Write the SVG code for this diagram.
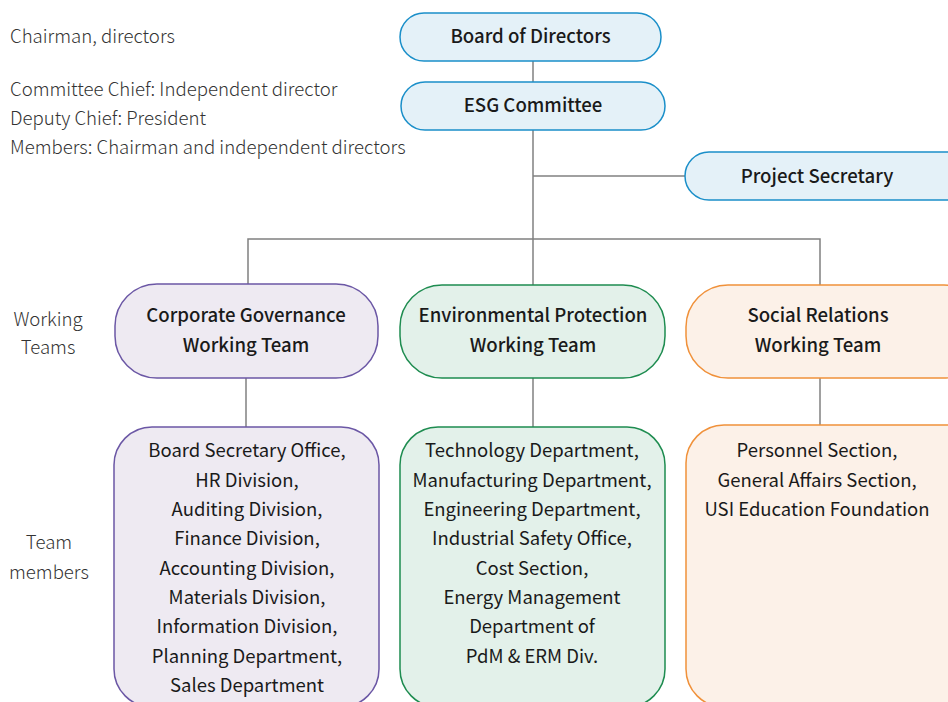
<svg xmlns="http://www.w3.org/2000/svg" width="948" height="702" viewBox="0 0 948 702">
<style>
text{font-family:"Noto Sans CJK TC","Noto Sans",sans-serif;text-anchor:middle;}
.t{font-size:18.6px;font-weight:500;fill:#1a1a1a;}
.m{font-size:18.5px;font-weight:400;fill:#1a1a1a;}
.l{font-size:18.6px;font-weight:300;fill:#333;}
.s{font-size:18.6px;font-weight:300;fill:#333;text-anchor:start;}
.blue{fill:#E4F1F8;stroke:#1A8FC9;stroke-width:1.5;}
.pur{fill:#EEEAF2;stroke:#6B57A5;stroke-width:1.5;}
.grn{fill:#E3F1EA;stroke:#1E8C50;stroke-width:1.5;}
.org{fill:#FCF1E8;stroke:#F0913A;stroke-width:1.5;}
.c{stroke:#808080;stroke-width:1.5;fill:none;}
</style>
<rect width="948" height="702" fill="#fff"/>
<g id="notes">
<text class="s" x="10" y="43">Chairman, directors</text>
<text class="s" x="10" y="96">Committee Chief: Independent director</text>
<text class="s" x="10" y="125">Deputy Chief: President</text>
<text class="s" x="10" y="154">Members: Chairman and independent directors</text>
<text class="l" x="48" y="326">Working</text>
<text class="l" x="48" y="354">Teams</text>
<text class="l" x="49" y="549">Team</text>
<text class="l" x="49" y="579">members</text>
</g>
<g id="connectors">
<line class="c" x1="533" y1="61" x2="533" y2="82"/>
<line class="c" x1="533" y1="130" x2="533" y2="285"/>
<line class="c" x1="533" y1="176" x2="685" y2="176"/>
<polyline class="c" points="248,284 248,239 820,239 820,285"/>
<line class="c" x1="246" y1="378" x2="246" y2="427"/>
<line class="c" x1="533" y1="378" x2="533" y2="427"/>
<line class="c" x1="820" y1="378" x2="820" y2="426"/>
</g>
<g id="board">
<rect class="blue" x="400" y="13" width="261" height="48" rx="24"/>
<text class="t" x="530.5" y="43">Board of Directors</text>
</g>
<g id="esg">
<rect class="blue" x="401" y="82" width="264" height="48" rx="24"/>
<text class="t" x="533" y="112">ESG Committee</text>
</g>
<g id="secretary">
<rect class="blue" x="685" y="152" width="290" height="48" rx="24"/>
<text class="t" x="817" y="183">Project Secretary</text>
</g>
<g id="cg-team">
<rect class="pur" x="115" y="284" width="263" height="94" rx="42"/>
<text class="t" x="246" y="322">Corporate Governance</text>
<text class="t" x="246" y="352">Working Team</text>
</g>
<g id="ep-team">
<rect class="grn" x="400" y="285" width="265" height="93" rx="42"/>
<text class="t" x="533" y="322">Environmental Protection</text>
<text class="t" x="533" y="352">Working Team</text>
</g>
<g id="sr-team">
<rect class="org" x="686" y="285" width="300" height="93" rx="42"/>
<text class="t" x="818" y="322">Social Relations</text>
<text class="t" x="818" y="352">Working Team</text>
</g>
<g id="cg-members">
<rect class="pur" x="114" y="427" width="265" height="280" rx="38"/>
<text class="m" x="247" y="457">Board Secretary Office,</text>
<text class="m" x="247" y="487">HR Division,</text>
<text class="m" x="247" y="516">Auditing Division,</text>
<text class="m" x="247" y="545">Finance Division,</text>
<text class="m" x="247" y="575">Accounting Division,</text>
<text class="m" x="247" y="604">Materials Division,</text>
<text class="m" x="247" y="633">Information Division,</text>
<text class="m" x="247" y="663">Planning Department,</text>
<text class="m" x="247" y="692">Sales Department</text>
</g>
<g id="ep-members">
<rect class="grn" x="400" y="427" width="265" height="280" rx="38"/>
<text class="m" x="532" y="457">Technology Department,</text>
<text class="m" x="532" y="487">Manufacturing Department,</text>
<text class="m" x="532" y="516">Engineering Department,</text>
<text class="m" x="532" y="545">Industrial Safety Office,</text>
<text class="m" x="532" y="575">Cost Section,</text>
<text class="m" x="532" y="604">Energy Management</text>
<text class="m" x="532" y="633">Department of</text>
<text class="m" x="532" y="663">PdM &amp; ERM Div.</text>
</g>
<g id="sr-members">
<rect class="org" x="686" y="425" width="300" height="282" rx="38"/>
<text class="m" x="817" y="457">Personnel Section,</text>
<text class="m" x="817" y="487">General Affairs Section,</text>
<text class="m" x="817" y="516">USI Education Foundation</text>
</g>
</svg>
